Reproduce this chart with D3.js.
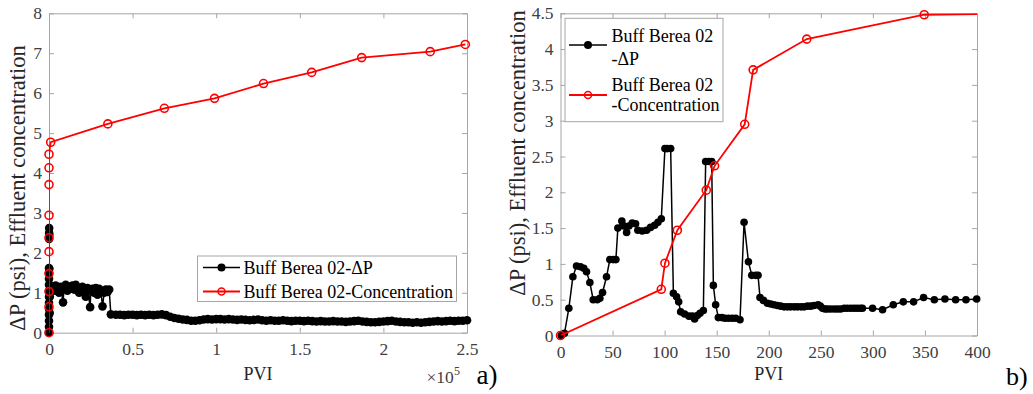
<!DOCTYPE html>
<html>
<head>
<meta charset="utf-8">
<script src="https://cdn.jsdelivr.net/npm/d3@7"></script>
<style>
  body { margin: 0; background: #fff; }
  svg, svg text { font-family: "Liberation Serif", "Times New Roman", serif; }
  .tick text { fill: #404040; font-size: 17.5px; }
  .domain, .tick line { stroke: #a6a6a6; }
</style>
</head>
<body>
<svg id="chart" width="1033" height="394"></svg>
<script>
// panel a) x values in units of 1e5 PVI
let dpA = [
  [0,0],[0,0.15],[0,0.3],[0,0.45],[0,0.6],[0,0.75],[0,0.9],[0,1.05],[0,1.2],[0,1.35],[0,1.5],[0,1.62],
  [0.0005,2.35],[0.0008,2.5],[0.001,2.62],[0.0015,2.45],[0.002,1.6],[0.003,1.2],[0.004,0.5],[0.005,0.9],
  [0.01,1.1],[0.02,1.15],[0.03,1.05],[0.04,1.18],[0.05,1.1],[0.06,1.0],[0.07,1.15],[0.084,0.76],[0.09,1.12],
  [0.10,1.2],[0.11,1.05],[0.12,1.15],[0.13,1.1],[0.14,1.18],[0.15,1.08],[0.16,1.2],[0.17,1.12],[0.18,1.0],
  [0.19,1.1],[0.20,1.15],[0.21,1.05],[0.22,0.9],[0.23,1.12],[0.246,0.64],[0.25,1.05],[0.26,1.1],[0.27,1.0],
  [0.28,1.12],[0.29,0.95],[0.30,1.1],[0.31,1.05],[0.32,0.66],[0.33,1.0],[0.34,1.08],[0.35,1.02],[0.36,1.08],
  [0.37,0.46],[0.40,0.45],[0.425,0.45],[0.45,0.44],[0.475,0.45],[0.50,0.45],[0.525,0.44],[0.55,0.45],
  [0.575,0.44],[0.60,0.45],[0.625,0.44],[0.65,0.45],[0.675,0.46],[0.70,0.44],[0.725,0.40],[0.75,0.37],
  [0.775,0.35],[0.80,0.33],[0.825,0.32],[0.85,0.30],[0.875,0.30],[0.90,0.31],[0.925,0.33],[0.95,0.34],
  [0.975,0.33],[1.00,0.34],[1.025,0.34],[1.05,0.33],[1.075,0.34],[1.10,0.33],[1.125,0.32],[1.15,0.33],
  [1.175,0.32],[1.2,0.31],[1.225,0.32],[1.25,0.33],[1.275,0.31],[1.3,0.30],[1.325,0.31],[1.35,0.30],
  [1.375,0.30],[1.4,0.31],[1.425,0.30],[1.45,0.29],[1.475,0.30],[1.5,0.30],[1.525,0.29],[1.55,0.30],
  [1.575,0.29],[1.6,0.28],[1.625,0.29],[1.65,0.28],[1.675,0.28],[1.7,0.29],[1.725,0.28],[1.75,0.28],
  [1.775,0.27],[1.8,0.28],[1.825,0.29],[1.85,0.30],[1.875,0.28],[1.9,0.27],[1.925,0.26],[1.95,0.26],
  [1.975,0.27],[2.0,0.28],[2.025,0.29],[2.05,0.30],[2.075,0.28],[2.1,0.27],[2.125,0.26],[2.15,0.26],
  [2.175,0.25],[2.2,0.26],[2.225,0.25],[2.25,0.26],[2.275,0.27],[2.3,0.28],[2.325,0.29],[2.35,0.28],
  [2.375,0.29],[2.4,0.30],[2.425,0.29],[2.45,0.30],[2.475,0.30],[2.5,0.31]
];
let concA = [
  [0,0],[0,0.65],[0,1.03],[0,1.48],[0,2.03],[0,2.38],[0,2.94],[0,3.71],[0,4.13],[0,4.47],[0.01,4.77],
  [0.352,5.23],[0.69,5.62],[0.99,5.87],[1.283,6.24],[1.571,6.52],[1.87,6.89],[2.28,7.04],[2.49,7.22]
];
let xTicksA = [0, 0.5, 1, 1.5, 2, 2.5];
let yTicksA = [0, 1, 2, 3, 4, 5, 6, 7, 8];

// panel b)
let dpB = [
  [0.7,0],[3.8,0.03],[8,0.38],[11.9,0.82],[15.4,0.97],[19.2,0.96],[22.4,0.94],[25,0.89],[28.2,0.74],
  [31.4,0.5],[35.3,0.5],[37.8,0.52],[40.4,0.6],[44.2,0.82],[47.4,1.06],[50.7,1.06],[53.2,1.06],[55.1,1.5],
  [58.9,1.6],[60.9,1.53],[63.5,1.44],[65.7,1.53],[68.9,1.57],[72.1,1.56],[74.3,1.47],[78.5,1.46],[82.7,1.47],
  [86.5,1.51],[90.4,1.54],[93.6,1.58],[96.8,1.63],[100.3,2.61],[102.6,2.61],[105.8,2.61],[108.4,0.59],
  [111.5,0.54],[113.5,0.47],[115.4,0.33],[119.2,0.3],[123.4,0.27],[126.6,0.27],[128.8,0.23],[131.4,0.28],
  [134,0.31],[137.2,0.35],[139.4,2.43],[142.6,2.43],[145.2,2.43],[146.8,0.7],[149,0.43],[151.6,0.25],
  [155,0.25],[158,0.24],[161.4,0.24],[165,0.24],[168.3,0.24],[172.4,0.22],[176.3,1.58],[180.5,1.03],
  [183.7,0.84],[187.5,0.84],[189.7,0.84],[191.6,0.53],[194.9,0.49],[198.7,0.45],[201.9,0.44],[205,0.43],
  [208.3,0.42],[211.5,0.41],[214.7,0.4],[218,0.4],[221,0.4],[224.5,0.4],[227.6,0.4],[231,0.4],[234,0.4],
  [237.2,0.41],[240.4,0.41],[243.5,0.42],[247.4,0.43],[249.5,0.41],[251.6,0.38],[254,0.37],[256.4,0.37],
  [259.5,0.37],[263,0.37],[266,0.37],[269,0.37],[272.5,0.38],[275.5,0.38],[278.8,0.38],[282,0.38],
  [285,0.38],[288,0.38],[290,0.38],[299.7,0.38],[309.3,0.36],[319.6,0.43],[329.2,0.47],[339.1,0.47],
  [348.7,0.53],[359,0.5],[369.2,0.51],[379.5,0.5],[389.4,0.5],[399.7,0.51]
];
let concB = [
  [0,0],[96.8,0.645],[100.3,1.01],[112.2,1.47],[140,2.03],[148,2.37],[176.9,2.95],[185,3.71],
  [236.5,4.14],[349.3,4.48],[420,4.49]
];
let xTicksB = [0, 50, 100, 150, 200, 250, 300, 350, 400];
let yTicksB = [0, 0.5, 1, 1.5, 2, 2.5, 3, 3.5, 4, 4.5];

let svg = d3.select('#chart');
let serif = '"Liberation Serif", "Times New Roman", serif';

function drawPanel(cfg) {
  let x = d3.scaleLinear().domain(cfg.xDom).range([cfg.left, cfg.right]);
  let y = d3.scaleLinear().domain(cfg.yDom).range([cfg.bottom, cfg.top]);
  let g = svg.append('g');

  let defs = g.append('defs');
  // tight clip for lines, loose clip for markers
  defs.append('clipPath').attr('id', cfg.id + 'clip')
    .append('rect')
    .attr('x', cfg.left).attr('y', cfg.top)
    .attr('width', cfg.right - cfg.left).attr('height', cfg.bottom - cfg.top);
  defs.append('clipPath').attr('id', cfg.id + 'clipM')
    .append('rect')
    .attr('x', cfg.left - 6).attr('y', cfg.top - 6)
    .attr('width', cfg.right - cfg.left + 12).attr('height', cfg.bottom - cfg.top + 12);

  // box axes, ticks inside
  let axes = [
    g.append('g').attr('transform', `translate(0,${cfg.bottom})`)
      .call(d3.axisBottom(x).tickValues(cfg.xTicks).tickSizeInner(-5).tickSizeOuter(0).tickPadding(10).tickFormat(d3.format(''))),
    g.append('g').attr('transform', `translate(0,${cfg.top})`)
      .call(d3.axisTop(x).tickValues(cfg.xTicks).tickSizeInner(-5).tickSizeOuter(0).tickFormat('')),
    g.append('g').attr('transform', `translate(${cfg.left},0)`)
      .call(d3.axisLeft(y).tickValues(cfg.yTicks).tickSizeInner(-5).tickSizeOuter(0).tickPadding(7).tickFormat(d3.format(''))),
    g.append('g').attr('transform', `translate(${cfg.right},0)`)
      .call(d3.axisRight(y).tickValues(cfg.yTicks).tickSizeInner(-5).tickSizeOuter(0).tickFormat(''))
  ];
  axes.forEach(a => a.attr('font-family', serif).attr('font-size', 17.5));

  let line = d3.line().x(d => x(d[0])).y(d => y(d[1]));
  let lines = g.append('g').attr('clip-path', `url(#${cfg.id}clip)`);
  let marks = g.append('g').attr('clip-path', `url(#${cfg.id}clipM)`);

  lines.append('path').datum(cfg.dp)
    .attr('d', line).style('fill', 'none').style('stroke', '#000').style('stroke-width', '1.5px');
  marks.selectAll('circle.dp').data(cfg.dp).enter().append('circle')
    .attr('class', 'dp')
    .attr('cx', d => x(d[0])).attr('cy', d => y(d[1]))
    .attr('r', cfg.dpR).style('fill', '#000');

  let redLine = g.append('g').attr('clip-path', `url(#${cfg.id}clip)`);
  let redMarks = g.append('g').attr('clip-path', `url(#${cfg.id}clipM)`);
  redLine.append('path').datum(cfg.conc)
    .attr('d', line).style('fill', 'none').style('stroke', '#ff0000').style('stroke-width', '1.8px');
  redMarks.selectAll('circle.conc').data(cfg.conc).enter().append('circle')
    .attr('class', 'conc')
    .attr('cx', d => x(d[0])).attr('cy', d => y(d[1]))
    .attr('r', 4).style('fill', 'none').style('stroke', '#ff0000').style('stroke-width', '1.6px');

  g.append('text')
    .attr('x', (cfg.left + cfg.right) / 2).attr('y', 380)
    .attr('text-anchor', 'middle').style('font-size', '18px').style('fill', '#262626')
    .text('PVI');
  g.append('text')
    .attr('transform', `translate(${cfg.labelX},${cfg.labelY}) rotate(-90)`)
    .attr('text-anchor', 'middle').style('font-size', '22.5px').style('fill', '#262626')
    .text('ΔP (psi), Effluent concentration');
  return g;
}

drawPanel({
  id: 'a', left: 49, right: 467, top: 13.3, bottom: 332.7,
  xDom: [0, 2.5], yDom: [0, 8], xTicks: xTicksA, yTicks: yTicksA,
  dp: dpA, conc: concA, dpR: 4.3, labelX: 25, labelY: 188
});
drawPanel({
  id: 'b', left: 560.5, right: 977, top: 13.3, bottom: 335.5,
  xDom: [0, 400], yDom: [0, 4.5], xTicks: xTicksB, yTicks: yTicksB,
  dp: dpB, conc: concB, dpR: 3.8, labelX: 525, labelY: 153
});

// legend a
let legA = svg.append('g');
legA.append('rect').attr('x', 197.5).attr('y', 256).attr('width', 259).attr('height', 45.5)
  .style('fill', '#fff').style('stroke', '#a6a6a6');
legA.append('line').attr('x1', 203).attr('x2', 240).attr('y1', 267.5).attr('y2', 267.5)
  .style('stroke', '#000').style('stroke-width', '1.5px');
legA.append('circle').attr('cx', 221.5).attr('cy', 267.5).attr('r', 4).style('fill', '#000');
legA.append('line').attr('x1', 203).attr('x2', 240).attr('y1', 291.5).attr('y2', 291.5)
  .style('stroke', '#ff0000').style('stroke-width', '1.8px');
legA.append('circle').attr('cx', 221.5).attr('cy', 291.5).attr('r', 3.5)
  .style('fill', 'none').style('stroke', '#ff0000').style('stroke-width', '1.5px');
legA.append('text').attr('x', 243.5).attr('y', 274).style('font-size', '18px').text('Buff Berea 02-ΔP');
legA.append('text').attr('x', 243.5).attr('y', 297.5).style('font-size', '18px').text('Buff Berea 02-Concentration');

// legend b
let legB = svg.append('g');
legB.append('rect').attr('x', 565).attr('y', 18.3).attr('width', 158).attr('height', 103.4)
  .style('fill', '#fff').style('stroke', '#a6a6a6');
legB.append('line').attr('x1', 569).attr('x2', 607).attr('y1', 45).attr('y2', 45)
  .style('stroke', '#000').style('stroke-width', '1.5px');
legB.append('circle').attr('cx', 588).attr('cy', 45).attr('r', 4).style('fill', '#000');
legB.append('line').attr('x1', 569).attr('x2', 607).attr('y1', 95).attr('y2', 95)
  .style('stroke', '#ff0000').style('stroke-width', '1.8px');
legB.append('circle').attr('cx', 588).attr('cy', 95).attr('r', 3.5)
  .style('fill', 'none').style('stroke', '#ff0000').style('stroke-width', '1.5px');
legB.append('text').attr('x', 611.5).attr('y', 41.5).style('font-size', '18px').text('Buff Berea 02');
legB.append('text').attr('x', 611.5).attr('y', 65).style('font-size', '18px').text('-ΔP');
legB.append('text').attr('x', 611.5).attr('y', 90.5).style('font-size', '18px').text('Buff Berea 02');
legB.append('text').attr('x', 611.5).attr('y', 111).style('font-size', '18px').text('-Concentration');

// exponent and panel tags
let expo = svg.append('text').attr('x', 426.5).attr('y', 383).style('font-size', '17.5px').style('fill', '#404040');
expo.append('tspan').text('×10');
expo.append('tspan').attr('dy', -8).style('font-size', '12px').text('5');
svg.append('text').attr('x', 476.5).attr('y', 384).style('font-size', '27px').text('a)');
svg.append('text').attr('x', 1006).attr('y', 385).style('font-size', '26px').text('b)');
</script>
</body>
</html>
